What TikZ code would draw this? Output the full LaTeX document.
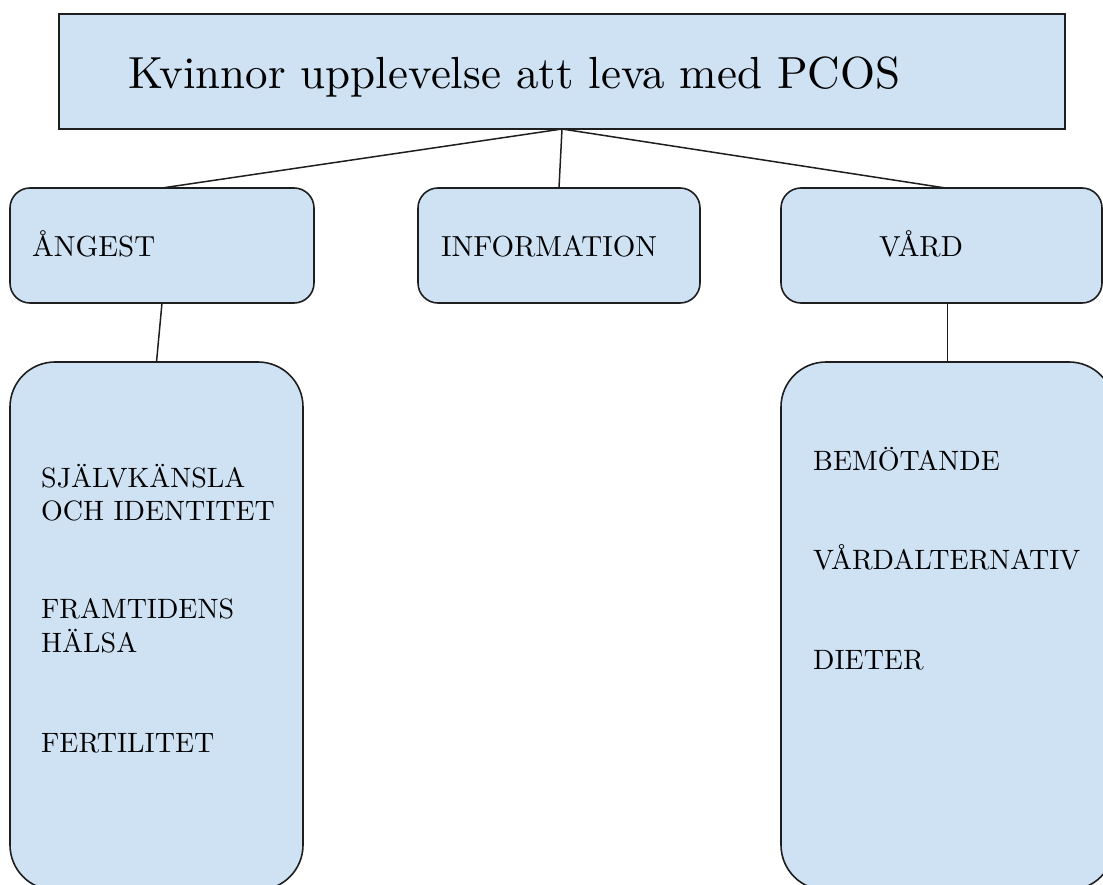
\documentclass[tikz,border=0pt]{standalone}
\usepackage{fontspec}
\setmainfont{lmroman10-regular.otf}
\definecolor{boxfill}{RGB}{207,226,243}
\definecolor{edge}{RGB}{30,30,30}
\tikzset{
  headbox/.style={draw=edge, fill=boxfill, line width=1.7pt, rectangle, inner sep=0pt, outer sep=0pt},
  catbox/.style={draw=edge, fill=boxfill, line width=1.6pt, rectangle, rounded corners=20pt, inner sep=0pt, outer sep=0pt},
  listbox/.style={draw=edge, fill=boxfill, line width=1.6pt, rectangle, rounded corners=45pt, inner sep=0pt, outer sep=0pt},
  link/.style={draw=edge, line width=1.5pt},
  titletext/.style={anchor=base west, inner sep=0pt, font=\fontsize{45}{54}\selectfont},
  cattext/.style={anchor=base west, inner sep=0pt, font=\fontsize{29}{34}\selectfont},
  itemtext/.style={anchor=base west, inner sep=0pt, font=\fontsize{28}{34}\selectfont}
}
\begin{document}
\begin{tikzpicture}[x=1pt,y=-1pt]
\useasboundingbox (0,0) rectangle (1103,885);
\clip (0,0) rectangle (1103,885);
% boxes
\node[headbox, minimum width=1006pt, minimum height=115pt] (titlebox) at (562,71.5) {};
\node[catbox, minimum width=304pt, minimum height=115pt] (angbox) at (162,245.5) {};
\node[catbox, minimum width=282pt, minimum height=115pt] (infobox) at (559,245.5) {};
\node[catbox, minimum width=321pt, minimum height=115pt] (vardbox) at (941.5,245.5) {};
\node[listbox, minimum width=293pt, minimum height=528pt] (alist) at (156.5,626) {};
\node[listbox, minimum width=333pt, minimum height=528pt] (vlist) at (947.5,626) {};
% connectors
\draw[link] (titlebox.south) -- (angbox.north);
\draw[link] (titlebox.south) -- (infobox.north);
\draw[link] (titlebox.south) -- ([xshift=4pt]vardbox.north);
\draw[link] (angbox.south) -- (alist.north);
\draw[link] (vlist.north |- vardbox.south) -- (vlist.north);
% texts
\node[titletext] (title) at (128,89) {Kvinnor upplevelse att leva med PCOS};
\node[cattext] (angest) at (32,257) {ÅNGEST};
\node[cattext] (info) at (441,257) {INFORMATION};
\node[cattext] (vard) at (879,257) {VÅRD};
\node[itemtext] (sj1) at (41,487) {SJÄLVKÄNSLA};
\node[itemtext] (sj2) at (41,520) {OCH IDENTITET};
\node[itemtext] (fr1) at (41,618) {FRAMTIDENS};
\node[itemtext] (fr2) at (41,652) {HÄLSA};
\node[itemtext] (fe) at (41,752) {FERTILITET};
\node[itemtext] (be) at (813,470) {BEMÖTANDE};
\node[itemtext] (va) at (813,569) {VÅRDALTERNATIV};
\node[itemtext] (di) at (813,669) {DIETER};
\end{tikzpicture}
\end{document}
